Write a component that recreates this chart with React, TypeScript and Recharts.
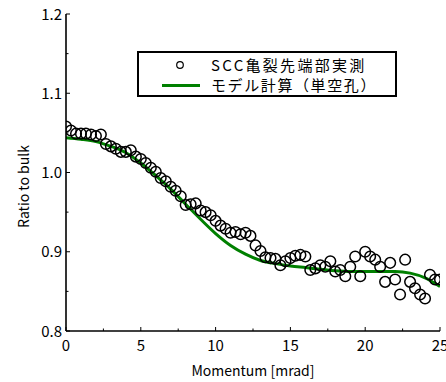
import React from 'react';
import { ComposedChart, Scatter, Line, XAxis, YAxis, Legend } from 'recharts';

const momentum = [
  0, 0.33, 0.67, 1.0, 1.33, 1.67, 2.0, 2.33, 2.67, 3.0,
  3.33, 3.67, 4.0, 4.33, 4.67, 5.0, 5.33, 5.67, 6.0, 6.33,
  6.67, 7.0, 7.33, 7.67, 8.0, 8.33, 8.67, 9.0, 9.33, 9.67,
  10.0, 10.33, 10.67, 11.0, 11.33, 11.67, 12.0, 12.33, 12.67, 13.0,
  13.33, 13.67, 14.0, 14.33, 14.67, 15.0, 15.33, 15.67, 16.0, 16.33,
  16.67, 17.0, 17.33, 17.67, 18.0, 18.33, 18.67, 19.0, 19.33, 19.67,
  20.0, 20.33, 20.67, 21.0, 21.33, 21.67, 22.0, 22.33, 22.67, 23.0,
  23.33, 23.67, 24.0, 24.33, 24.67, 25.0,
];

const measured = [
  1.058, 1.053, 1.049, 1.049, 1.049, 1.048, 1.046, 1.048, 1.036, 1.033,
  1.03, 1.026, 1.026, 1.028, 1.02, 1.017, 1.012, 1.006, 1.001, 0.993,
  0.989, 0.982, 0.977, 0.97, 0.959, 0.96, 0.961, 0.952, 0.95, 0.946,
  0.939, 0.933, 0.929, 0.924, 0.925, 0.922, 0.924, 0.92, 0.908, 0.901,
  0.893, 0.892, 0.891, 0.883, 0.888, 0.892, 0.895, 0.896, 0.894, 0.877,
  0.879, 0.883, 0.881, 0.888, 0.875, 0.877, 0.869, 0.881, 0.894, 0.869,
  0.9, 0.894, 0.89, 0.881, 0.862, 0.886, 0.865, 0.846, 0.89, 0.862,
  0.854, 0.846, 0.841, 0.871, 0.865, 0.865,
];

const modelMomentum = [
  0, 1, 2, 3, 4, 5, 6, 7, 8, 9, 10, 11, 12,
  13, 14, 15, 16, 17, 18, 19, 20, 21, 22, 23, 24, 25,
];

const modelRatio = [
  1.044, 1.042, 1.039, 1.033, 1.025, 1.012, 0.996, 0.979, 0.96, 0.941, 0.923, 0.908, 0.897,
  0.889, 0.885, 0.882, 0.88, 0.878, 0.876, 0.875, 0.875, 0.875, 0.875, 0.873, 0.867, 0.856,
];

const xTicks = [0, 2.5, 5, 7.5, 10, 12.5, 15, 17.5, 20, 22.5, 25];
const xMajor = [0, 5, 10, 15, 20, 25];
const yTicks = [0.8, 0.85, 0.9, 0.95, 1.0, 1.05, 1.1, 1.15, 1.2];

const legendMeasured = 'SCC亀裂先端部実測';
const legendModel = 'モデル計算（単空孔）';
const xLabel = 'Momentum [mrad]';
const yLabel = 'Ratio to bulk';

const measuredData = momentum.map((x, i) => ({ x, y: measured[i] }));
const modelData = modelMomentum.map((x, i) => ({ x, y: modelRatio[i] }));

const FONT = '"Noto Sans CJK JP", "Noto Sans", sans-serif';
const GREEN = '#008000';

const isMajorY = (v: number) => Math.abs(v * 10 - Math.round(v * 10)) < 1e-6;
const isMajorX = (v: number) => xMajor.some((m) => Math.abs(m - v) < 1e-6);

const BottomTick = (props: any) => {
  const { x, y, payload } = props;
  const v = payload.value;
  const major = isMajorX(v);
  return (
    <g>
      <line x1={x} y1={y} x2={x} y2={y - (major ? 4 : 2.5)} stroke="#000" strokeWidth={1} />
      {major && (
        <text x={x} y={y + 20} textAnchor="middle" fontSize={15} fontFamily={FONT} fill="#000">
          {v}
        </text>
      )}
    </g>
  );
};

const TopTick = (props: any) => {
  const { x, y, payload } = props;
  const major = isMajorX(payload.value);
  return <line x1={x} y1={y} x2={x} y2={y + (major ? 4 : 2.5)} stroke="#000" strokeWidth={1} />;
};

const LeftTick = (props: any) => {
  const { x, y, payload } = props;
  const v = payload.value;
  const major = isMajorY(v);
  return (
    <g>
      <line x1={x} y1={y} x2={x + (major ? 4 : 2.5)} y2={y} stroke="#000" strokeWidth={1} />
      {major && (
        <text x={x - 4} y={y + 5.5} textAnchor="end" fontSize={15} fontFamily={FONT} fill="#000">
          {v.toFixed(1)}
        </text>
      )}
    </g>
  );
};

const RightTick = (props: any) => {
  const { x, y, payload } = props;
  const major = isMajorY(payload.value);
  return <line x1={x} y1={y} x2={x - (major ? 4 : 2.5)} y2={y} stroke="#000" strokeWidth={1} />;
};

const OpenCircle = (props: any) => {
  const { cx, cy } = props;
  return <circle cx={cx} cy={cy} r={5.3} fill="none" stroke="#000" strokeWidth={1.5} />;
};

const LegendBox = () => (
  <svg width={260} height={46} style={{ display: 'block' }}>
    <rect x={1} y={1} width={258} height={44} fill="#fff" stroke="#000" strokeWidth={2} />
    <circle cx={43} cy={14} r={3.3} fill="none" stroke="#000" strokeWidth={1.2} />
    <text x={74} y={19.5} fontSize={15} letterSpacing={2.3} fontFamily={FONT} fill="#000">
      {legendMeasured}
    </text>
    <line x1={25} y1={34.5} x2={63} y2={34.5} stroke={GREEN} strokeWidth={3} />
    <text x={74} y={40} fontSize={15} letterSpacing={1.6} fontFamily={FONT} fill="#000">
      {legendModel}
    </text>
  </svg>
);

export default function App() {
  return (
    <div style={{ position: 'absolute', left: 0, top: 0, background: '#fff' }}>
      <ComposedChart
        width={446}
        height={382}
        margin={{ top: 14, right: 6, bottom: 0, left: 0 }}
      >
        <XAxis
          xAxisId="b"
          dataKey="x"
          type="number"
          domain={[0, 25]}
          ticks={xTicks}
          interval={0}
          allowDataOverflow
          height={51}
          tickSize={0}
          tickMargin={0}
          tick={<BottomTick />}
          axisLine={{ stroke: '#000', strokeWidth: 1.6 }}
          tickLine={false}
          label={(p: any) => {
            const vb = p.viewBox || {};
            return (
              <text
                x={(vb.x ?? 66) + (vb.width ?? 374) / 2}
                y={(vb.y ?? 331) + 45}
                textAnchor="middle"
                fontSize={14}
                fontFamily={FONT}
                fill="#000"
              >
                {xLabel}
              </text>
            );
          }}
        />
        <XAxis
          xAxisId="t"
          orientation="top"
          dataKey="x"
          type="number"
          domain={[0, 25]}
          ticks={xTicks}
          interval={0}
          allowDataOverflow
          height={0}
          tickSize={0}
          tickMargin={0}
          tick={<TopTick />}
          axisLine={{ stroke: '#000', strokeWidth: 1.6 }}
          tickLine={false}
        />
        <YAxis
          yAxisId="l"
          type="number"
          domain={[0.8, 1.2]}
          ticks={yTicks}
          interval={0}
          allowDataOverflow
          width={66}
          tickSize={0}
          tickMargin={0}
          tick={<LeftTick />}
          axisLine={{ stroke: '#000', strokeWidth: 1.6 }}
          tickLine={false}
          label={(p: any) => {
            const vb = p.viewBox || {};
            const cy = (vb.y ?? 14) + (vb.height ?? 317) / 2 + 14;
            return (
              <text
                x={23}
                y={cy}
                transform={`rotate(-90, 23, ${cy})`}
                textAnchor="middle"
                dominantBaseline="central"
                fontSize={14}
                fontFamily={FONT}
                fill="#000"
              >
                {yLabel}
              </text>
            );
          }}
        />
        <YAxis
          yAxisId="r"
          orientation="right"
          type="number"
          domain={[0.8, 1.2]}
          ticks={yTicks}
          interval={0}
          allowDataOverflow
          width={0}
          tickSize={0}
          tickMargin={0}
          tick={<RightTick />}
          axisLine={{ stroke: '#000', strokeWidth: 1.6 }}
          tickLine={false}
        />
        <Line
          xAxisId="b"
          yAxisId="l"
          data={modelData}
          dataKey="y"
          type="monotone"
          stroke={GREEN}
          strokeWidth={3}
          dot={false}
          activeDot={false}
          isAnimationActive={false}
          legendType="line"
          name={legendModel}
        />
        <Scatter
          xAxisId="b"
          yAxisId="l"
          data={measuredData}
          dataKey="y"
          shape={<OpenCircle />}
          isAnimationActive={false}
          name={legendMeasured}
        />
        <Legend
          layout="vertical"
          align="center"
          verticalAlign="middle"
          content={() => <LegendBox />}
          wrapperStyle={{ left: 137, top: 51, width: 260, height: 46 }}
        />
      </ComposedChart>
    </div>
  );
}
